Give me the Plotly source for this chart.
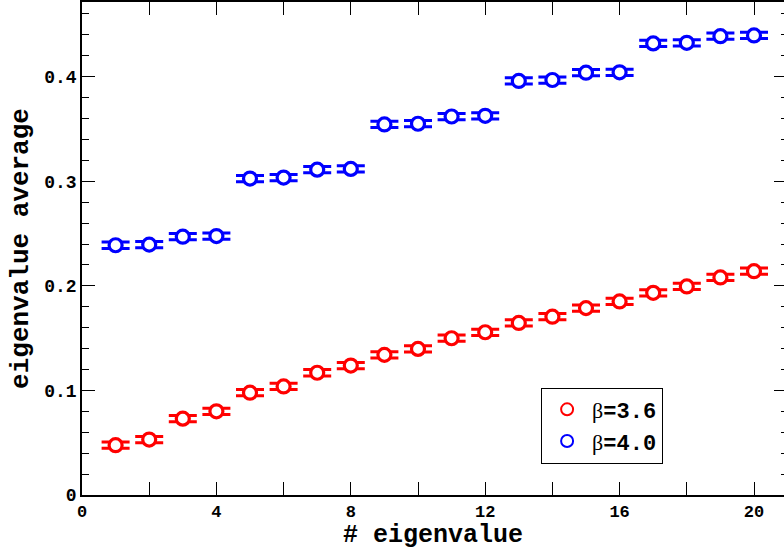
import plotly.graph_objects as go

# eigenvalue index
idx = list(range(1, 21))

# beta = 3.6 averages and errors
avg_b36 = [0.0476, 0.0530, 0.0730, 0.0800, 0.0978, 0.1038, 0.1169, 0.1238, 0.1340, 0.1397,
           0.1499, 0.1556, 0.1645, 0.1705, 0.1787, 0.1851, 0.1933, 0.1994, 0.2080, 0.2140]
err_b36 = [0.003, 0.003, 0.003, 0.003, 0.003, 0.003, 0.003, 0.003, 0.003, 0.003,
           0.003, 0.003, 0.003, 0.003, 0.003, 0.003, 0.003, 0.003, 0.003, 0.003]

# beta = 4.0 averages and errors
avg_b40 = [0.2388, 0.2394, 0.2470, 0.2476, 0.3026, 0.3035, 0.3111, 0.3118, 0.3543, 0.3550,
           0.3619, 0.3626, 0.3959, 0.3968, 0.4038, 0.4042, 0.4318, 0.4324, 0.4387, 0.4394]
err_b40 = [0.003, 0.003, 0.003, 0.003, 0.003, 0.003, 0.003, 0.003, 0.003, 0.003,
           0.003, 0.003, 0.003, 0.003, 0.003, 0.003, 0.003, 0.003, 0.003, 0.003]

names = ["<span style='font-family:Liberation Serif;font-weight:normal'>β</span>=3.6",
         "<span style='font-family:Liberation Serif;font-weight:normal'>β</span>=4.0"]
colors = ["#ff0000", "#0000ff"]

MONO = "Liberation Mono"

fig = go.Figure()
for ys, es, nm, col in [(avg_b36, err_b36, names[0], colors[0]),
                        (avg_b40, err_b40, names[1], colors[1])]:
    fig.add_trace(go.Scatter(
        x=idx, y=ys, name=nm, mode="markers",
        marker=dict(symbol="circle", size=13, color="white",
                    line=dict(color=col, width=3.2)),
        error_y=dict(type="data", array=es, visible=True, color=col,
                     thickness=3, width=14),
    ))

# helper trace so the right-hand tick axis is drawn
fig.add_trace(go.Scatter(x=[None], y=[None], yaxis="y2", showlegend=False,
                         hoverinfo="skip"))

YMAX = 0.4714
XMAX = 20.893

fig.update_layout(
    width=784, height=550,
    margin=dict(l=82, r=0, t=2, b=53),
    paper_bgcolor="white", plot_bgcolor="white",
    font=dict(family=MONO, color="black"),
    showlegend=True,
    legend=dict(x=0.654, y=0.218, xanchor="left", yanchor="top",
                bgcolor="white", bordercolor="black", borderwidth=1,
                font=dict(family=MONO, size=22, color="black", weight="bold"),
                itemsizing="constant", itemwidth=40, tracegroupgap=0),
    xaxis=dict(range=[0, XMAX], showgrid=False, zeroline=False,
               showline=True, linecolor="black", linewidth=1.5,
               mirror="allticks", ticks="inside", ticklen=13, tickwidth=1,
               tickcolor="black", tick0=0, dtick=4,
               minor=dict(ticks="inside", ticklen=7, dtick=2, tickwidth=1,
                          tickcolor="black", showgrid=False),
               tickfont=dict(family=MONO, size=17, color="black", weight="bold"),
               title=dict(text="# eigenvalue", standoff=10,
                          font=dict(family=MONO, size=25, color="black",
                                    weight="bold"))),
    yaxis=dict(range=[0, YMAX], showgrid=False, zeroline=False,
               showline=True, linecolor="black", linewidth=1.5,
               mirror=False, ticks="inside", ticklen=13, tickwidth=1,
               tickcolor="black", tick0=0, dtick=0.1,
               minor=dict(ticks="inside", ticklen=7, dtick=0.02, tickwidth=1,
                          tickcolor="black", showgrid=False),
               tickfont=dict(family=MONO, size=18, color="black", weight="bold"),
               title=dict(text="eigenvalue average", standoff=8,
                          font=dict(family=MONO, size=26, color="black",
                                    weight="bold"))),
    yaxis2=dict(range=[0, YMAX], overlaying="y", side="right", anchor="x",
                showgrid=False, zeroline=False, showline=False,
                showticklabels=False, ticks="inside", ticklen=10, tickwidth=1,
                tickcolor="black", tick0=0, dtick=0.1,
                minor=dict(ticks="inside", ticklen=3, dtick=0.02, tickwidth=1,
                           tickcolor="black", showgrid=False)),
)

fig.write_html("out.html")
